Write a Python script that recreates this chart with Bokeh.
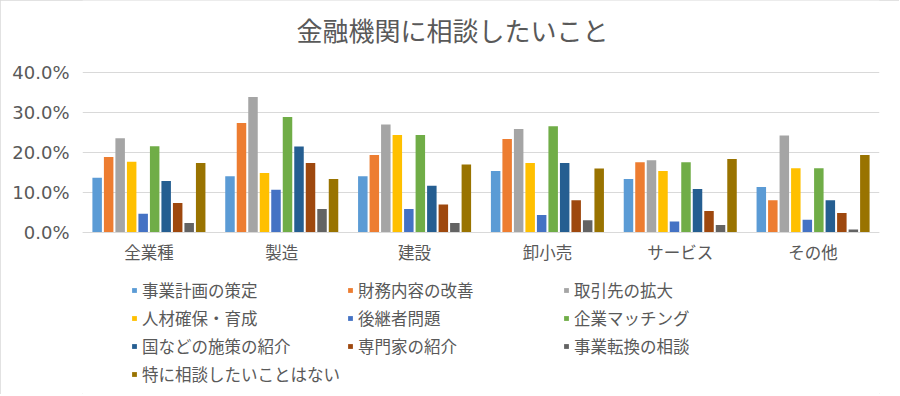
from bokeh.plotting import figure
from bokeh.models import (ColumnDataSource, FactorRange, Range1d, Legend, LegendItem,
                          Label, PrintfTickFormatter, FixedTicker)
from bokeh.transform import dodge
from bokeh.embed import file_html
from bokeh.resources import INLINE

title_text = "金融機関に相談したいこと"
categories = ["全業種", "製造", "建設", "卸小売", "サービス", "その他"]
series_names = ["事業計画の策定", "財務内容の改善", "取引先の拡大", "人材確保・育成",
                "後継者問題", "企業マッチング", "国などの施策の紹介", "専門家の紹介",
                "事業転換の相談", "特に相談したいことはない"]
s1 = [13.6, 14.0, 14.0, 15.3, 13.3, 11.3]
s2 = [18.8, 27.3, 19.3, 23.3, 17.5, 8.0]
s3 = [23.5, 33.8, 26.9, 25.8, 18.0, 24.2]
s4 = [17.6, 14.8, 24.3, 17.3, 15.3, 16.0]
s5 = [4.6, 10.6, 5.8, 4.3, 2.7, 3.1]
s6 = [21.5, 28.8, 24.3, 26.5, 17.5, 16.0]
s7 = [12.8, 21.4, 11.6, 17.3, 10.8, 8.0]
s8 = [7.3, 17.3, 6.9, 8.0, 5.3, 4.8]
s9 = [2.3, 5.8, 2.3, 3.0, 1.8, 0.7]
s10 = [17.3, 13.3, 16.9, 15.9, 18.3, 19.3]
series_values = [s1, s2, s3, s4, s5, s6, s7, s8, s9, s10]
colors = ["#5B9BD5", "#ED7D31", "#A5A5A5", "#FFC000", "#4472C4",
          "#70AD47", "#255E91", "#9E480E", "#636363", "#997300"]
y_ticks = [0, 10, 20, 30, 40]

TEXT = "#595959"
FONT = "Noto Sans CJK JP"

data = {"cat": categories}
keys = []
for i, vals in enumerate(series_values):
    k = f"s{i+1}"
    keys.append(k)
    data[k] = vals
src = ColumnDataSource(data)

W, H = 899, 394
# frame spans the full figure height; 1% = 4 px
p = figure(width=W, height=H, x_range=FactorRange(*categories),
           y_range=Range1d(-40.575, 57.925), output_backend="svg",
           toolbar_location=None, title=None,
           min_border_left=82, min_border_right=20,
           min_border_top=0, min_border_bottom=0)
p.outline_line_color = None
p.background_fill_color = "white"
p.border_fill_color = "white"
p.styles = {"outline": "1px solid #d9d9d9", "outline-offset": "-1px"}

pitch = 0.0866
bw = 0.0715
renderers = []
for i, k in enumerate(keys):
    r = p.vbar(x=dodge("cat", (i - 4.5) * pitch, range=p.x_range), top=k, width=bw,
               source=src, fill_color=colors[i], line_color=None)
    renderers.append(r)

p.yaxis.ticker = FixedTicker(ticks=y_ticks)
p.yaxis.formatter = PrintfTickFormatter(format="%.1f%%")
p.yaxis.axis_line_color = None
p.yaxis.major_tick_line_color = None
p.yaxis.minor_tick_line_color = None
p.yaxis.major_label_text_font = "DejaVu Sans"
p.yaxis.major_label_text_font_size = "18px"
p.yaxis.major_label_text_color = TEXT
p.yaxis.major_label_standoff = 7

p.xaxis.fixed_location = 0
p.xaxis.axis_line_color = "#d9d9d9"
p.xaxis.major_tick_line_color = None
p.xaxis.minor_tick_line_color = None
p.xaxis.major_label_text_font = FONT
p.xaxis.major_label_text_font_size = "16.5px"
p.xaxis.major_label_text_color = TEXT
p.xaxis.major_label_standoff = 2

p.xgrid.grid_line_color = None
p.ygrid.grid_line_color = "#d9d9d9"
p.ygrid.ticker = FixedTicker(ticks=y_ticks)

title = Label(x=370, y=H - 29, x_units="screen", y_units="screen", text=title_text,
              text_align="center", text_baseline="middle", text_font=FONT,
              text_font_size="26px", text_color=TEXT)
p.add_layout(title)

columns_idx = [[0, 3, 6, 9], [1, 4, 7], [2, 5, 8]]
col_x = [49, 265, 481]
ITEM_H = 24
SP = 4
for cx, idxs in zip(col_x, columns_idx):
    items = [LegendItem(label=series_names[j], renderers=[renderers[j]]) for j in idxs]
    n = len(idxs)
    h = n * ITEM_H + (n - 1) * SP
    vy = H - 278 - h
    lg = Legend(items=items, location=(cx, vy), orientation="vertical",
                glyph_width=6, glyph_height=6, label_height=20, spacing=SP,
                label_standoff=5, padding=0, margin=0, border_line_color=None,
                background_fill_alpha=0, label_text_font=FONT,
                label_text_font_size="16.5px", label_text_color=TEXT)
    p.add_layout(lg, "center")

open("out.html", "w").write(file_html(p, INLINE))
